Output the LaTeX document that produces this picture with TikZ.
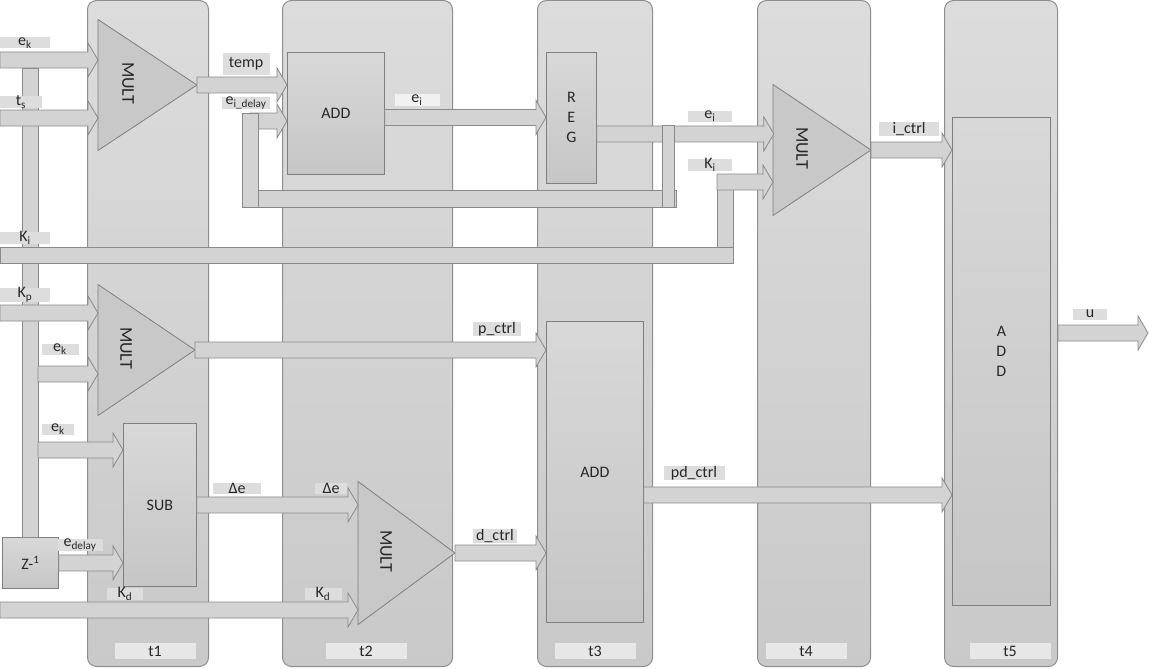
\documentclass[tikz,border=0pt]{standalone}
\usepackage{fontspec}
\setmainfont{Carlito}
\usepackage{tikz}
\usetikzlibrary{positioning,calc,shapes.geometric}
\definecolor{stagetop}{HTML}{DCDCDC}
\definecolor{stagebot}{HTML}{C9C9C9}
\definecolor{stageline}{HTML}{8E8E8E}
\definecolor{blocktop}{HTML}{D8D8D8}
\definecolor{blockbot}{HTML}{C6C6C6}
\definecolor{blockline}{HTML}{7F7F7F}
\definecolor{multfill}{HTML}{C8C8C8}
\definecolor{arrfill}{HTML}{D3D3D3}
\definecolor{arrline}{HTML}{8A8A8A}
\definecolor{lblfill}{HTML}{DDDDDD}
\definecolor{inkgray}{HTML}{262626}
\newcommand{\fatarrow}[2]{\path[fatarr] let \p1=#1, \p2=#2 in
  (\x1,\y1+8pt) -- (\x2-10pt,\y1+8pt) -- (\x2-10pt,\y1+17pt) -- (\x2,\y1)
  -- (\x2-10pt,\y1-17pt) -- (\x2-10pt,\y1-8pt) -- (\x1,\y1-8pt) -- cycle;}
\newcommand{\hbus}[3][8pt]{\path[fatarr] let \p1=#2, \p2=#3 in (\x1,\y1-#1) rectangle (\x2,\y1+#1);}
\newcommand{\vbus}[3][8pt]{\path[fatarr] let \p1=#2, \p2=#3 in (\x1-#1,\y1) rectangle (\x1+#1,\y2);}

\begin{document}
\begin{tikzpicture}[x=1pt,y=-1pt,font=\fontsize{16}{20}\selectfont,text=inkgray,
 stage/.style={draw=stageline,line width=1pt,rounded corners=9pt,top color=stagetop,bottom color=stagebot,
   anchor=north west,inner sep=0pt,minimum height=666pt,minimum width=#1},
 block/.style={draw=blockline,line width=0.8pt,top color=blocktop,bottom color=blockbot,
   anchor=north west,inner sep=0pt,align=center},
 mult/.style={isosceles triangle,isosceles triangle stretches,shape border rotate=0,draw=blockline,
   line width=0.8pt,fill=multfill,inner sep=0pt,outer sep=0pt,anchor=apex},
 multtxt/.style={rotate=-90,inner sep=0pt,font=\fontsize{18}{20}\selectfont},
 fatarr/.style={fill=arrfill,draw=arrline,line width=0.8pt},
 lbl/.style={fill=lblfill,inner sep=0pt,minimum height=11pt,minimum width=#1},
 tlbl/.style={fill=lblfill!70!white,inner sep=0pt,minimum height=16pt,minimum width=81pt}]
\useasboundingbox (0,0) rectangle (1149,669);

\node[stage=121pt] (t1) at (87,0) {};
\node[stage=170pt] (t2) at (282,0) {};
\node[stage=115pt] (t3) at (537,0) {};
\node[stage=113pt] (t4) at (757,0) {};
\node[stage=113pt] (t5) at (944,0) {};
\node[tlbl] (t1lbl) at (155,651) {t1};
\node[tlbl] (t2lbl) at (366,651) {t2};
\node[tlbl] (t3lbl) at (595,651) {t3};
\node[tlbl] (t4lbl) at (806,651) {t4};
\node[tlbl] (t5lbl) at (1010,651) {t5};

\node[block,minimum width=97pt,minimum height=122pt] (add1) at (287,52) {ADD};
\node[block,minimum width=50pt,minimum height=131pt] (reg) at (546,52) {R\\E\\G};
\node[block,minimum width=97pt,minimum height=301pt] (add3) at (546,321) {ADD};
\node[block,minimum width=98pt,minimum height=488pt] (add5) at (952,117) {A\\D\\D\\[0pt]};
\node[block,minimum width=73pt,minimum height=163pt] (sub) at (123,423) {SUB};
\node[block,minimum width=56pt,minimum height=51pt] (zinv) at (2,537) {Z-\textsuperscript{1}};
\node[mult,minimum height=99pt,minimum width=131pt] (mult1) at (197,85) {};
\node[mult,minimum height=98pt,minimum width=131pt] (mult2) at (871,150) {};
\node[mult,minimum height=97pt,minimum width=131pt] (mult3) at (195,350) {};
\node[mult,minimum height=97pt,minimum width=143pt] (mult4) at (455,553) {};
\node[multtxt] (mult1txt) at ($(mult1.apex)+(-69,-2)$) {MULT};
\node[multtxt] (mult2txt) at ($(mult2.apex)+(-69,-2)$) {MULT};
\node[multtxt] (mult3txt) at ($(mult3.apex)+(-69,-2)$) {MULT};
\node[multtxt] (mult4txt) at ($(mult4.apex)+(-69,-2)$) {MULT};

\coordinate (ek-in) at (0,60);
\coordinate (ts-in) at (0,118);
\coordinate (ki-in) at (0,255);
\coordinate (kp-in) at (0,313);
\coordinate (kd-in) at (0,610);
\coordinate (bus-top) at (30,68);
\coordinate (ek2-tap) at (38,374);
\coordinate (ek3-tap) at (38,450);
\coordinate (fb-in) at (250,113);
\coordinate (fb-low) at (250,207);
\coordinate (fb-left) at (242,198.5);
\coordinate (fb-right) at (676,198.5);
\coordinate (fb-up) at (668,125);
\coordinate (fb-down) at (668,207);
\coordinate (eid) at (250,121);
\coordinate (ki-end) at (733,255);
\coordinate (ki-top) at (725,174);
\coordinate (ki-bot) at (725,263);
\coordinate (ki-up) at (717,182);
\coordinate (u-out) at (1148,333);

\vbus{(bus-top)}{(zinv.north)}
\vbus{(ki-top)}{(ki-bot)}
\hbus{(ki-in)}{(ki-end)}
\fatarrow{(ki-up)}{(ki-up -| mult2.west)}
\fatarrow{(ek-in)}{(ek-in -| mult1.west)}
\fatarrow{(ts-in)}{(ts-in -| mult1.west)}
\fatarrow{(mult1.apex)}{(mult1.apex -| add1.west)}
\fatarrow{(eid)}{(eid -| add1.west)}
\fatarrow{($(add1.east)+(0,4)$)}{($(reg.west)+(0,0)$)}
\fatarrow{($(reg.east)+(0,16)$)}{($(reg.east)+(177,16)$)}
\hbus[8.5pt]{(fb-left)}{(fb-right)}
\vbus{(fb-in)}{(fb-low)}
\vbus[6pt]{(fb-up)}{(fb-down)}
\fatarrow{(mult2.apex)}{(mult2.apex -| add5.west)}
\fatarrow{(kp-in)}{(kp-in -| mult3.west)}
\fatarrow{(ek2-tap)}{(ek2-tap -| mult3.west)}
\fatarrow{(ek3-tap)}{(ek3-tap -| sub.west)}
\fatarrow{(zinv.east)}{(zinv.east -| sub.west)}
\fatarrow{(sub.east)}{(sub.east -| mult4.west)}
\fatarrow{(kd-in)}{(kd-in -| mult4.west)}
\fatarrow{(mult3.apex)}{(mult3.apex -| add3.west)}
\fatarrow{(mult4.apex)}{(mult4.apex -| add3.west)}
\fatarrow{($(add3.east)+(0,23)$)}{($(add5.west)+(0,135)$)}
\fatarrow{(t5.east |- u-out)}{(u-out)}

\node[lbl=50pt] (ek-l1) at (25,43) {e\textsubscript{k}};
\node[lbl=42pt] (ts-l) at (21,102) {t\textsubscript{s}};
\node[lbl=47pt,minimum height=22pt] (temp-l) at (246,64) {temp};
\node[lbl=48pt,minimum height=10pt] (eid-l) at (246,103) {e\textsubscript{i\_delay}};
\node[lbl=45pt,fill=lblfill!40!white] (ei-l1) at (417,100) {e\textsubscript{i}};
\node[lbl=44pt] (ei-l2) at (710,116) {e\textsubscript{i}};
\node[lbl=44pt] (ki-l2) at (710,165) {K\textsubscript{i}};
\node[lbl=60pt] (ictrl-l) at (909,129) {i\_ctrl};
\node[lbl=50pt] (ki-l1) at (25,238) {K\textsubscript{i}};
\node[lbl=50pt] (kp-l) at (25,295) {K\textsubscript{p}};
\node[lbl=37pt] (ek-l2) at (60,349) {e\textsubscript{k}};
\node[lbl=32pt] (ek-l3) at (58,429) {e\textsubscript{k}};
\node[lbl=48pt] (pctrl-l) at (497,329) {p\_ctrl};
\node[lbl=48pt] (de-l1) at (237,488) {Δe};
\node[lbl=32pt] (de-l2) at (331,488) {Δe};
\node[lbl=45pt] (edel-l) at (80,545) {e\textsubscript{delay}};
\node[lbl=36pt] (kd-l1) at (125,594) {K\textsubscript{d}};
\node[lbl=37pt] (kd-l2) at (323,594) {K\textsubscript{d}};
\node[lbl=44pt] (dctrl-l) at (495,536) {d\_ctrl};
\node[lbl=61pt,minimum height=13pt] (pdctrl-l) at (694,473) {pd\_ctrl};
\node[lbl=34pt] (u-l) at (1090,314) {u};
\end{tikzpicture}
\end{document}
